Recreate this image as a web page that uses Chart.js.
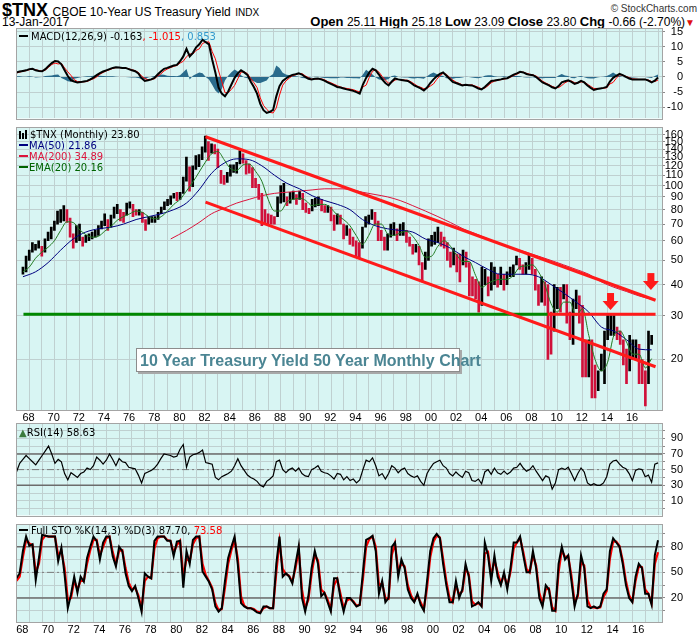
<!DOCTYPE html>
<html>
<head>
<meta charset="utf-8">
<script src="https://cdn.jsdelivr.net/npm/chart.js@4.4.0/dist/chart.umd.min.js"></script>
<style>
  body { margin: 0; width: 700px; height: 639px; background: #fff; position: relative; overflow: hidden; font-family: 'Liberation Sans', Arial, sans-serif; }
  canvas { position: absolute; left: 0; }
  .nar { font-family: 'Liberation Sans Narrow', 'Liberation Sans', Arial, sans-serif; }
  .lg { position: absolute; font: 10px 'DejaVu Sans', Verdana, sans-serif; white-space: nowrap; line-height: 11px; z-index: 5; }
  .dash { display: inline-block; width: 9px; height: 2px; vertical-align: middle; margin-right: 3px; position: relative; top: -1px; }
  .ico { display: inline-block; width: 2px; background: #000; margin-right: 1px; vertical-align: -1px; }
  #note { position: absolute; left: 136px; top: 348px; width: 324px; height: 24px; background: #fff; border: 1px solid #8c8c8c; box-shadow: 2px 2px 0 #a8a8a8; font: bold 16px 'Liberation Sans', Arial, sans-serif; color: #4b8593; line-height: 24px; padding-left: 3px; box-sizing: border-box; z-index: 5; white-space: nowrap; }
</style>
</head>
<body>

<div class="nar" style="position:absolute;left:2px;top:0px;white-space:nowrap;">
  <span style="font-weight:bold;font-size:18px;">$TNX</span>
  <span style="font-size:12px;">CBOE 10-Year US Treasury Yield</span>
  <span style="font-size:10px;">INDX</span>
</div>
<div style="position:absolute;right:3px;top:3px;font:10px 'Liberation Sans',Arial;color:#333;">&copy; StockCharts.com</div>
<div class="nar" style="position:absolute;left:2px;top:15px;font-size:12px;">13-Jan-2017</div>
<div class="nar" style="position:absolute;right:5px;top:14px;font-size:12px;white-space:nowrap;">
  <b style="font-size:13px;">Open</b> 25.11 <b style="font-size:13px;">High</b> 25.18 <b style="font-size:13px;">Low</b> 23.09 <b style="font-size:13px;">Close</b> 23.80 <b style="font-size:13px;">Chg</b> -0.66 (-2.70%)<span style="color:#e01010;font-size:10px;">&#9660;</span>
</div>

<canvas id="macdChart" width="700" height="105" style="top:21px"></canvas>
<canvas id="priceChart" width="700" height="304" style="top:120px"></canvas>
<canvas id="rsiChart" width="700" height="107" style="top:416px"></canvas>
<canvas id="stoChart" width="700" height="119" style="top:517px"></canvas>

<div class="lg" style="left:19px;top:31px;"><span class="dash" style="background:#000"></span>MACD(12,26,9) -0.163<span style="color:#f00">, -1.015</span><span style="color:#3399cc">, 0.853</span></div>

<div class="lg" style="left:19px;top:129px;">
  <div><span class="ico" style="height:8px"></span><span class="ico" style="height:6px"></span><span class="ico" style="height:9px;margin-right:3px"></span>$TNX (Monthly) 23.80</div>
  <div style="color:#000080"><span class="dash" style="background:#000080;margin-right:1px"></span>MA(50) 21.86</div>
  <div style="color:#dc143c"><span class="dash" style="background:#dc143c;margin-right:1px"></span>MA(200) 34.89</div>
  <div style="color:#006400"><span class="dash" style="background:#006400;margin-right:1px"></span>EMA(20) 20.16</div>
</div>

<div class="lg" style="left:19px;top:427px;"><span style="color:#3c7a3c">&#x25B2;</span>RSI(14) 58.63</div>
<div class="lg" style="left:19px;top:525px;"><span class="dash" style="background:#000"></span>Full STO %K(14,3) %D(3) 87.70, <span style="color:#f00">73.58</span></div>

<div id="note">10 Year Treasury Yield 50 Year Monthly Chart</div>

<script>
// quarterly series start at 1967 Q1, last value is Jan 2017
const Q_START = 1967;
const Q_STEP = 0.25;

// $TNX quarterly low / high (yield x 10)
const priceLow = [
  44,45,50,54, 55,56,52,54, 60,61,66,70, 71,72,71,62, 56,59,60,57,
  59,60,61,62, 63,67,69,66, 68,74,77,72, 71,76,81,75, 76,76,71,66,
  70,71,71,73, 77,80,83,84, 89,87,88,93, 104,95,99,116, 119,127,136,126,
  135,134,118,102, 101,103,109,113, 112,122,123,111, 112,98,98,88, 69,70,70,70,
  70,75,85,86, 83,85,88,84, 88,80,78,77, 79,82,83,79, 78,78,72,66,
  70,70,61,63, 58,57,52,51, 56,68,70,73, 70,60,60,55, 55,62,63,60,
  63,63,59,57, 53,54,48,41, 46,50,57,58, 59,57,56,50, 47,48,45,41,
  48,47,36,36, 35,31,33,40, 36,38,40,39, 40,38,40,43, 43,48,46,44,
  44,46,44,38, 33,34,33,20, 21,26,32,31, 35,28,24,23, 32,28,17,17,
  17,14,14,15, 18,16,24,25, 25,24,23,19, 16,18,20,20, 16,16,13,16,
  23
];
const priceHigh = [
  47,52,55,59, 58,60,57,61, 65,68,72,79, 80,83,80,74, 64,69,70,62,
  63,64,65,66, 69,72,77,73, 76,82,84,80, 78,85,86,84, 80,80,78,73,
  75,75,75,78, 82,86,88,91, 93,94,94,108, 130,119,120,132, 133,143,158,150,
  147,146,140,115, 110,113,121,121, 124,138,134,126, 122,118,107,101, 93,80,77,76,
  75,90,100,102, 90,94,95,92, 95,93,85,81, 88,89,90,88, 83,83,82,76,
  77,76,70,69, 67,62,60,59, 68,75,76,80, 78,72,66,62, 64,70,71,67,
  70,71,66,62, 58,58,57,49, 54,61,63,65, 68,65,62,59, 54,56,53,53,
  55,54,49,43, 42,41,47,46, 43,49,47,44, 47,44,45,47, 48,52,51,48,
  49,53,51,46, 40,43,41,40, 31,40,39,39, 40,40,31,35, 38,36,33,24,
  24,24,19,18, 21,26,30,30, 30,27,26,24, 22,25,24,24, 23,20,18,26,
  25
];

// moving averages
const ma50Years = [1967,1968,1969,1970,1971,1972,1973,1974,1975,1976,1977,1978,1979,1980,1981,1982,1983,1984,1985,1986,1987,1988,1989,1990,1991,1992,1993,1994,1995,1996,1997,1998,1999,2000,2001,2002,2003,2004,2005,2006,2007,2008,2009,2010,2011,2012,2013,2014,2015,2016,2017];
const ma50 = [43,45,49,55,61,65,67,68,70,73,75,77,80,85,96,112,123,128,127,120,110,102,97,91,87,84,80,73,69,67,66,65,61,59,56,52,49,46,44,44,44,43,40,37,34,31,27,26,24,22,21.86];
const ma200Years = [1978.75,1980,1981,1982,1983,1984,1985,1986,1987,1988,1989,1990,1991,1992,1993,1994,1995,1996,1997,1998,1999,2000,2001,2002,2003,2004,2005,2006,2007,2008,2009,2010,2011,2012,2013,2014,2015,2016,2017];
const ma200 = [61,66,71,77,81,85,88,91,93,94,95,96,97,97,96.5,94,92,90,87,83,79,75,71,67,64,61,58,56,54,52,50,48,46,44,41,39,37.5,36,34.89];
const EMA_START = 1967, EMA_STEP = 0.5;
const ema20 = [
  45,47, 51,54, 56.5,60, 66,71.5, 71,66.5, 63.5,62, 62.5,65.5, 68.5,72.5, 75,77, 79,78,
  75,73.5, 75,79, 84,88, 95,103, 113,124, 134,137, 127,117, 115,121, 122,114, 104,88,
  79,79, 86,88, 89,87, 83,84, 84,81, 76,73, 69,63, 58,63, 70,70, 64,63,
  64.5,65.5, 62.5,57.5, 51.5,52, 57,60, 57,52.5, 49.5,49.5, 43.5,39, 40.5,41.5, 42,42, 43.5,47,
  47.5,48, 45,40, 33.5,31, 34,34, 30,32, 25,20, 18,19.5, 25,26, 23.5,21, 21,18.5,
  20.16
];

// annotations drawn on the price panel
const upperTrend = [{ x: 1981.52, y: 157 }, { x: 2017.31, y: 34.6 }];
const lowerTrend = [{ x: 1981.52, y: 85.7 }, { x: 2017.31, y: 18.7 }];
const supportLevel = 30.4;
const supportSplit = 2008.72;
const arrowTips = [{ x: 2013.73, y: 31.6 }, { x: 2016.94, y: 38.0 }];

// MACD(12,26,9) quarterly
const macdLine = [
  1.5,1.8,2.0,2.2, 2.6,2.7,2.2,2.0, 1.9,2.6,3.6,4.6, 5.3,5.1,4.2,2.2, 0.3,-1.1,-1.5,-1.8,
  -1.7,-1.5,-1.3,-0.8, -0.2,0.6,1.3,1.8, 2.2,2.6,3.0,3.2, 3.1,3.0,3.0,2.6, 2.2,1.9,1.2,-0.4,
  -1.3,-1.1,-0.8,-0.3, 0.8,1.8,2.7,3.0, 3.4,3.8,4.0,5.2, 6.8,9.3,6.8,8.0, 9.8,10.8,12.3,11.5,
  10.8,5.8,1.5,-3.5, -5.5,-6.4,-4.8,-2.5, -0.3,1.2,2.2,1.5, 0.7,-1.5,-3.3,-5.5, -8.9,-11.0,-11.9,-11.5,
  -10.9,-6.4,-3.0,-1.3, -0.5,0.2,0.7,0.9, 1.2,0.8,0.0,-0.6, -0.8,-0.6,-0.5,-0.8, -1.2,-1.8,-2.3,-2.8,
  -3.3,-3.5,-3.8,-4.1, -4.3,-4.6,-5.0,-5.5, -2.5,-0.3,1.5,2.7, 2.2,0.8,-0.8,-2.0, -2.8,-1.5,-0.5,-0.8,
  -1.0,-1.2,-1.3,-2.0, -2.8,-3.3,-3.8,-4.5, -3.5,-2.0,-0.8,0.2, 1.0,1.5,0.5,-0.6, -1.6,-2.0,-2.4,-2.8,
  -2.6,-2.7,-2.8,-3.3, -3.8,-4.1,-3.3,-2.3, -1.3,-1.2,-1.0,-0.8, -0.5,-0.4,0.2,0.8, 1.2,1.7,1.5,1.0,
  0.7,0.6,0.0,-0.9, -1.8,-2.3,-2.8,-3.4, -3.8,-3.0,-1.8,-1.4, -1.1,-1.6,-2.3,-1.9, -1.3,-1.8,-2.8,-3.6,
  -4.3,-4.0,-3.8,-3.6, -3.3,-1.5,-0.3,0.4, 1.0,0.6,0.0,-0.5, -0.8,-0.8,-0.8,-0.8, -0.8,-1.2,-1.8,-1.2,
  -0.163
];
const macdSignal = [
  1.3,1.6,1.9,2.1, 2.4,2.6,2.4,2.1, 1.9,2.3,3.2,4.1, 4.6,4.3,4.5,3.0, 1.7,0.5,-0.9,-1.5,
  -1.6,-1.6,-1.5,-1.0, -0.6,0.0,0.9,1.5, 2.0,2.4,2.8,3.1, 3.1,3.0,3.0,2.7, 2.4,2.1,1.5,0.3,
  -0.5,-0.9,-0.9,-0.6, 0.3,1.0,2.0,2.6, 3.1,3.5,3.8,4.6, 5.2,6.7,7.6,7.6, 8.8,9.3,11.1,11.5,
  11.6,8.4,6.0,2.0, -1.5,-5.2,-5.2,-4.1, -2.8,-0.6,1.6,1.7, 1.1,-0.5,-1.9,-3.5, -6.9,-9.4,-10.7,-11.7,
  -11.9,-10.2,-6.0,-2.7, -1.3,-0.4,0.4,0.7, 1.1,1.1,0.4,-0.2, -0.7,-0.7,-0.6,-0.6, -0.9,-1.5,-1.9,-2.4,
  -2.9,-3.3,-3.6,-3.8, -4.0,-4.2,-4.6,-5.0, -3.3,-2.7,-0.1,1.9, 2.4,1.6,0.2,-1.0, -2.1,-1.8,-1.0,-0.8,
  -0.9,-1.0,-1.1,-1.6, -2.3,-3.0,-3.4,-3.9, -3.7,-3.0,-2.3,-0.8, 0.4,1.2,0.9,-0.1, -1.0,-1.7,-2.1,-2.6,
  -2.7,-2.7,-2.6,-3.0, -3.4,-3.9,-3.7,-2.9, -1.9,-1.4,-1.1,-0.9, -0.7,-0.5,-0.1,0.5, 0.9,1.5,1.6,1.2,
  0.9,0.7,0.3,-0.5, -1.4,-2.0,-2.5,-3.1, -3.5,-3.5,-2.8,-1.9, -1.4,-1.3,-1.9,-2.0, -1.6,-1.7,-2.4,-3.1,
  -3.8,-3.8,-3.8,-3.7, -3.6,-2.3,-1.8,-0.4, 0.7,0.6,0.2,-0.2, -0.6,-0.7,-0.8,-0.8, -0.8,-1.0,-1.5,-1.5,
  -1.015
];
const macdHist = [
  0.2,0.2,0.1,0.1, 0.2,0.1,-0.2,-0.1, 0.0,0.3,0.4,0.5, 0.7,0.8,-0.3,-0.8, -1.4,-1.6,-0.6,-0.3,
  -0.1,0.1,0.2,0.2, 0.4,0.6,0.4,0.3, 0.2,0.2,0.2,0.1, 0.0,0.0,0.0,-0.1, -0.2,-0.2,-0.3,-0.7,
  -0.8,-0.2,0.1,0.3, 0.5,0.8,0.7,0.4, 0.3,0.3,0.2,0.6, 1.6,2.6,-0.8,0.4, 1.0,1.5,1.2,0.0,
  -0.8,-2.6,-4.5,-5.5, -4.0,-1.2,0.4,1.6, 2.5,1.8,0.6,-0.2, -0.4,-1.0,-1.4,-2.0, -2.0,-1.6,-1.2,0.2,
  1.0,3.8,3.0,1.4, 0.8,0.6,0.3,0.2, 0.1,-0.3,-0.4,-0.4, -0.1,0.1,0.1,-0.2, -0.3,-0.3,-0.4,-0.4,
  -0.4,-0.2,-0.2,-0.3, -0.3,-0.4,-0.4,-0.5, 0.8,2.4,1.6,0.8, -0.2,-0.8,-1.0,-1.0, -0.7,0.3,0.5,0.0,
  -0.1,-0.2,-0.2,-0.4, -0.5,-0.3,-0.4,-0.6, 0.2,1.0,1.5,1.0, 0.6,0.3,-0.4,-0.5, -0.6,-0.3,-0.3,-0.2,
  0.1,0.0,-0.2,-0.3, -0.4,-0.2,0.4,0.6, 0.6,0.2,0.1,0.1, 0.2,0.1,0.3,0.3, 0.3,0.2,-0.1,-0.2,
  -0.2,-0.1,-0.3,-0.4, -0.4,-0.3,-0.3,-0.3, -0.3,0.5,1.0,0.5, 0.3,-0.3,-0.4,0.1, 0.3,-0.1,-0.4,-0.5,
  -0.5,-0.2,0.0,0.1, 0.3,0.8,1.5,0.8, 0.3,0.0,-0.2,-0.3, -0.2,-0.1,0.0,0.0, 0.0,-0.2,-0.3,0.3,
  0.853
];

// RSI(14) quarterly
const rsi14 = [
  47,58,63,68, 64,60,56,62, 68,74,80,70, 58,63,60,45, 37,46,43,40,
  45,47,52,50, 55,66,62,57, 62,70,63,55, 64,60,59,53, 52,51,43,33,
  45,47,49,52, 57,64,70,69, 68,66,67,76, 82,53,66,69, 70,72,75,59,
  58,57,40,37, 41,43,45,48, 55,64,55,49, 43,40,38,35, 30,28,35,38,
  42,60,62,50, 46,50,52,48, 52,45,42,41, 50,52,55,48, 46,45,42,38,
  45,44,37,41, 36,38,33,37, 50,62,60,65, 55,42,45,38, 45,55,52,46,
  50,52,45,42, 40,42,35,30, 45,52,58,60, 62,55,52,45, 42,47,43,40,
  48,46,36,35, 38,32,47,50, 44,52,46,44, 48,44,47,52, 53,58,52,48,
  50,55,48,42, 36,42,40,25, 33,50,52,50, 53,45,36,45, 52,47,33,30,
  32,30,30,33, 41,57,61,62, 57,53,51,45, 36,49,51,50, 41,43,34,57,
  58.63
];

// Full STO %K(14,3) and %D(3) quarterly
const stoK = [
  43,49,75,92, 81,83,41,67, 94,93,92,92, 92,63,79,47, 8,24,45,26,
  45,39,67,80, 92,87,65,85, 92,92,69,57, 80,75,49,34, 28,34,20,4,
  49,45,43,87, 92,92,92,87, 87,69,86,87, 32,75,60,88, 92,92,51,45,
  39,30,10,4, 8,40,67,80, 92,59,14,10, 8,8,6,3, 2,10,10,8,
  8,60,92,45, 49,45,37,60, 81,20,4,22, 55,75,60,22, 26,15,4,43,
  43,20,4,20, 20,15,10,12, 50,88,90,93, 75,25,40,15, 20,80,85,45,
  65,55,30,20, 15,25,12,5, 40,75,90,95, 90,60,35,15, 15,40,20,30,
  60,45,10,12, 15,10,85,70, 40,70,45,35, 50,30,55,85, 85,92,70,50,
  50,75,55,20, 10,35,30,5, 5,60,80,65, 70,40,10,25, 70,55,10,8,
  10,8,10,25, 30,75,90,85, 80,60,35,20, 15,45,60,55, 25,25,12,70,
  87.70
];
const stoD = [
  40,45,68,88, 84,82,50,60, 88,93,92,92, 92,70,75,55, 18,20,40,30,
  40,40,60,76, 88,88,70,80, 90,92,74,60, 75,76,55,38, 30,32,23,8,
  40,45,43,78, 90,92,92,88, 87,73,82,87, 45,66,63,83, 90,92,60,47,
  40,32,14,6, 7,32,60,76, 88,66,22,11, 8,8,7,4, 3,8,10,8,
  8,50,86,54, 48,46,39,55, 76,30,8,18, 48,70,64,30, 26,18,7,35,
  42,25,8,17, 19,16,11,12, 42,80,89,92, 80,35,37,20, 19,70,84,52,
  60,57,35,23, 16,23,15,7, 32,68,86,93, 91,66,40,20, 15,35,24,28,
  54,48,16,12, 14,11,72,74, 46,64,50,37, 47,34,50,78, 85,90,74,54,
  50,70,58,26, 13,30,31,9, 5,50,76,68, 69,46,15,22, 62,58,18,9,
  9,8,9,21, 28,66,86,86, 81,64,40,23, 16,40,57,56, 30,25,14,60,
  73.58
];

// axis ticks
const macdTicks = [-10, -5, 0, 5, 10, 15];
const priceTicks = [20, 30, 40, 50, 60, 70, 80, 90, 100, 110, 120, 130, 140, 150, 160];
const rsiGrid = [0, 10, 20, 30, 40, 50, 60, 70, 80, 90, 100];
const rsiLabels = [10, 30, 50, 70, 90];
const stoGrid = [5, 20, 35, 50, 65, 80, 95];
const stoLabels = [20, 50, 80];
const gridYears = [];
for (let y = 1968; y <= 2017; y++) gridYears.push(y);

const X_MIN = 1967.04, X_MAX = 2017.31;

// ---------------------------------------------------------------------
const qTimes = priceLow.map((_, i) => Q_START + i * Q_STEP);
const emaTimes = ema20.map((_, i) => EMA_START + i * EMA_STEP);
const pts = (xs, ys) => ys.map((v, i) => ({ x: xs[i], y: v }));

const BG = '#d8f5f3';
const GRID = '#bfd0d0';
const FONT = { family: "'Liberation Sans', Arial, sans-serif", size: 11 };

const panelBg = {
  id: 'panelBg',
  beforeDraw(chart) {
    const { ctx, chartArea: a } = chart;
    ctx.save();
    ctx.fillStyle = BG;
    ctx.fillRect(a.left, a.top, a.right - a.left, a.bottom - a.top);
    ctx.restore();
  },
  afterDraw(chart) {
    const { ctx, chartArea: a } = chart;
    ctx.save();
    ctx.strokeStyle = '#a4a4a4';
    ctx.lineWidth = 1;
    ctx.strokeRect(Math.round(a.left) - 0.5, Math.round(a.top) - 0.5, Math.round(a.right - a.left) + 1, Math.round(a.bottom - a.top) + 1);
    ctx.restore();
  }
};

function xAxis(showLabels) {
  return {
    type: 'linear', min: X_MIN, max: X_MAX,
    afterBuildTicks: s => { s.ticks = gridYears.map(v => ({ value: v })); },
    afterFit: s => { s.height = showLabels ? 14 : 0; },
    grid: { color: GRID, drawTicks: false },
    border: { display: false },
    ticks: {
      display: showLabels, autoSkip: false, maxRotation: 0, padding: 1, labelOffset: -7,
      color: '#000', font: FONT,
      callback: v => (v % 2 === 0 ? String(v).slice(2) : '')
    }
  };
}

function yAxis(type, min, max, gridVals, labelVals) {
  return {
    type, position: 'right', min, max,
    afterBuildTicks: s => { s.ticks = gridVals.map(v => ({ value: v })); },
    afterFit: s => { s.width = 21; },
    grid: { color: GRID, drawTicks: true, tickLength: 3, tickColor: '#8a8a8a' },
    border: { display: false },
    ticks: {
      crossAlign: 'far', padding: 1, color: '#000', font: FONT, autoSkip: false,
      callback: v => (labelVals.includes(v) ? String(v) : '')
    }
  };
}

function line(data, color, width, extra) {
  return Object.assign({ type: 'line', data, borderColor: color, borderWidth: width, pointRadius: 0, fill: false, tension: 0 }, extra || {});
}
function hline(y, color, width, dash) {
  return line([{ x: X_MIN, y }, { x: X_MAX, y }], color, width, { borderDash: dash || [] });
}

function baseOptions(scales, bottomPad) {
  return {
    responsive: false, animation: false, events: [],
    layout: { padding: { left: 17, right: 17, top: 7, bottom: bottomPad || 0 } },
    plugins: { legend: { display: false }, tooltip: { enabled: false } },
    scales
  };
}

// MACD panel
new Chart(document.getElementById('macdChart'), {
  type: 'line',
  data: {
    datasets: [
      line(pts(qTimes, macdLine), '#000', 2),
      line(pts(qTimes, macdSignal), '#ff0000', 1),
      line(pts(qTimes, macdHist), 'rgba(0,0,0,0)', 0, { fill: 'origin', backgroundColor: '#2a6b8c' })
    ]
  },
  options: baseOptions({ x: xAxis(false), y: yAxis('linear', -13.7, 16.0, macdTicks, macdTicks) }),
  plugins: [panelBg]
});

// price panel
const barColors = priceLow.map((lo, i) => {
  const mid = (lo + priceHigh[i]) / 2;
  const prev = i ? (priceLow[i - 1] + priceHigh[i - 1]) / 2 : mid;
  return mid < prev ? '#d0103a' : '#000000';
});

const arrowPlugin = {
  id: 'arrows',
  afterDatasetsDraw(chart) {
    const { ctx, scales: { x, y } } = chart;
    ctx.save();
    ctx.fillStyle = '#ff1a1a';
    arrowTips.forEach(p => {
      const px = x.getPixelForValue(p.x), py = y.getPixelForValue(p.y);
      ctx.fillRect(px - 3.5, py - 17, 7, 8);
      ctx.beginPath();
      ctx.moveTo(px - 8, py - 9);
      ctx.lineTo(px + 8, py - 9);
      ctx.lineTo(px, py);
      ctx.closePath();
      ctx.fill();
    });
    ctx.restore();
  }
};

new Chart(document.getElementById('priceChart'), {
  type: 'bar',
  data: {
    datasets: [
      line(upperTrend, '#ff1a1a', 3),
      line(lowerTrend, '#ff1a1a', 3),
      line([{ x: X_MIN, y: supportLevel }, { x: supportSplit, y: supportLevel }], '#008800', 3),
      line([{ x: supportSplit, y: supportLevel }, { x: X_MAX, y: supportLevel }], '#ff1a1a', 3),
      line(pts(emaTimes, ema20), '#1f7a1f', 1, { cubicInterpolationMode: 'monotone' }),
      line(pts(ma50Years, ma50), '#000080', 1, { cubicInterpolationMode: 'monotone' }),
      line(pts(ma200Years, ma200), '#dc143c', 1, { cubicInterpolationMode: 'monotone' }),
      {
        type: 'bar',
        data: qTimes.map((t, i) => ({ x: t, y: [priceLow[i], priceHigh[i]] })),
        backgroundColor: barColors,
        barThickness: 2,
        grouped: false
      }
    ]
  },
  options: baseOptions({ x: xAxis(true), y: yAxis('logarithmic', 12.53, 170.9, priceTicks, priceTicks) }),
  plugins: [panelBg, arrowPlugin]
});

// RSI panel
new Chart(document.getElementById('rsiChart'), {
  type: 'line',
  data: {
    datasets: [
      line(pts(qTimes, rsi14), '#000', 1.2),
      hline(70, '#6c6c6c', 1.5),
      hline(30, '#6c6c6c', 1.5),
      hline(50, '#7a7a7a', 1, [7, 3, 2, 3])
    ]
  },
  options: baseOptions({ x: xAxis(false), y: yAxis('linear', -8.4, 108.7, rsiGrid, rsiLabels) }),
  plugins: [panelBg]
});

// Full STO panel
new Chart(document.getElementById('stoChart'), {
  type: 'line',
  data: {
    datasets: [
      line(pts(qTimes, stoK), '#000', 2),
      line(pts(qTimes, stoD), '#ff0000', 2.2),
      hline(80, '#6c6c6c', 1.5),
      hline(20, '#6c6c6c', 1.5),
      hline(50, '#7a7a7a', 1, [7, 3, 2, 3])
    ]
  },
  options: baseOptions({ x: xAxis(true), y: yAxis('linear', -8.2, 106, stoGrid, stoLabels) }),
  plugins: [panelBg]
});
</script>
</body>
</html>
